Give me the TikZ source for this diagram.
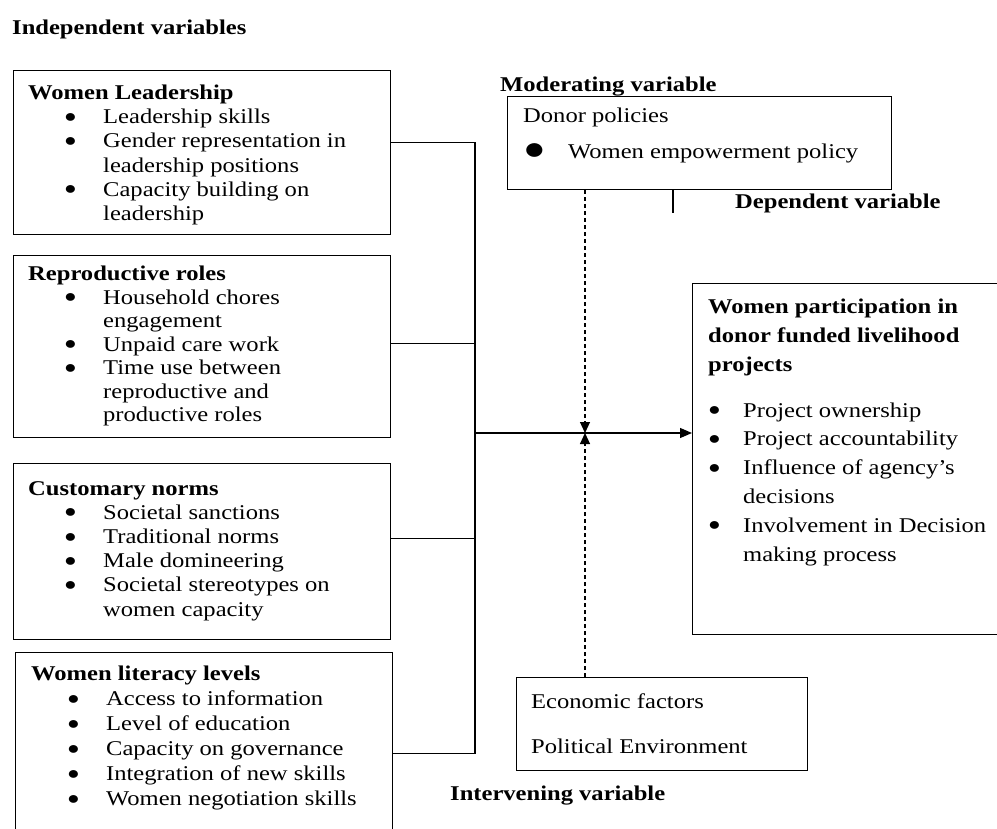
\documentclass[tikz,border=0pt]{standalone}
\usepackage{fontspec}
\setmainfont{Liberation Serif}[FakeStretch=1.17]
\usetikzlibrary{arrows.meta,positioning}
\tikzstyle{varbox} = [draw, line width=1.3pt, anchor=north west, inner sep=0pt]
\tikzstyle{vartext} = [anchor=north west, inner sep=0pt, align=left, font=\fontsize{21}{24.2}\selectfont]
\tikzstyle{vartitle} = [anchor=north west, inner sep=0pt, font=\fontsize{21}{24}\selectfont\bfseries]
\tikzstyle{link} = [line width=1.3pt]
\tikzstyle{arrow} = [line width=1.3pt,-{Triangle[length=12pt,width=10pt]}]
\tikzstyle{dasharrow} = [line width=1.1pt, dash pattern=on 4pt off 3pt, -{Triangle[length=11pt,width=10pt]}]
\newcommand{\blob}[2]{\raisebox{#2}{\fontsize{#1}{#1}\selectfont ●}}
\newcommand{\ibul}{\hspace*{36pt}\makebox[39pt][l]{\blob{18}{1.5pt}}}
\newcommand{\icont}{\hspace*{75pt}}
\newcommand{\dbul}{\makebox[35pt][l]{\blob{18}{1.5pt}}}
\newcommand{\dcont}{\hspace*{35pt}}
\begin{document}
\begin{tikzpicture}[x=1pt,y=-1pt]
\useasboundingbox (0,0) rectangle (997,829);

% headings
\node[vartitle] (indep) at (12,20) {Independent variables};
\node[vartitle] (modlabel) at (500,77) {Moderating variable};
\node[vartitle] (deplabel) at (735,194) {Dependent variable};
\node[vartitle] (intlabel) at (450,786) {Intervening variable};

% independent variables
\node[varbox, minimum width=377pt, minimum height=164pt] (lead) at (13,70) {};
\node[vartext, below right=14.7pt and 15pt of lead.north west] (leadtxt)
  {\textbf{Women Leadership}\\ \ibul Leadership skills\\ \ibul Gender representation in\\
   \icont leadership positions\\ \ibul Capacity building on\\ \icont leadership};

\node[varbox, minimum width=377pt, minimum height=182pt] (repro) at (13,255) {};
\node[vartext, font=\fontsize{21}{23.5}\selectfont, below right=11pt and 15pt of repro.north west] (reprotxt)
  {\textbf{Reproductive roles}\\ \ibul Household chores\\ \icont engagement\\ \ibul Unpaid care work\\
   \ibul Time use between\\ \icont reproductive and\\ \icont productive roles};

\node[varbox, minimum width=377pt, minimum height=176pt] (norms) at (13,463) {};
\node[vartext, below right=18pt and 15pt of norms.north west] (normstxt)
  {\textbf{Customary norms}\\ \ibul Societal sanctions\\ \ibul Traditional norms\\ \ibul Male domineering\\
   \ibul Societal stereotypes on\\ \icont women capacity};

\node[varbox, minimum width=377pt, minimum height=202pt] (lit) at (15,652) {};
\node[vartext, font=\fontsize{21}{25}\selectfont, below right=14pt and 16pt of lit.north west] (littxt)
  {\textbf{Women literacy levels}\\ \ibul Access to information\\ \ibul Level of education\\
   \ibul Capacity on governance\\ \ibul Integration of new skills\\ \ibul Women negotiation skills};

% dependent variable
\node[varbox, minimum width=320pt, minimum height=351pt] (dep) at (692,283) {};
\node[vartext, font=\fontsize{21}{28.8}\selectfont, below right=16pt and 16pt of dep.north west] (deptxt)
  {\textbf{Women participation in}\\ \textbf{donor funded livelihood}\\ \textbf{projects}\\[17pt]
   \dbul Project ownership\\ \dbul Project accountability\\ \dbul Influence of agency’s\\
   \dcont decisions\\ \dbul Involvement in Decision\\ \dcont making process};

% moderating and intervening
\node[varbox, minimum width=384pt, minimum height=93pt] (donor) at (507,96) {};
\node[vartext, font=\fontsize{21}{36}\selectfont, below right=12pt and 16pt of donor.north west] (donortxt)
  {Donor policies\\ \makebox[45pt][l]{\blob{32}{-1pt}}Women empowerment policy};

\node[varbox, minimum width=291pt, minimum height=93pt] (interv) at (516,677) {};
\node[vartext, font=\fontsize{21}{45}\selectfont, below right=17pt and 15pt of interv.north west] (intervtxt)
  {Economic factors\\ Political Environment};

% connectors
\coordinate (hub) at (475,433);
\coordinate (cross) at (585,433);
\coordinate (tickend) at (673,213);
\draw[link] ([yshift=10pt]lead.east) -| (hub) |- (lit.east);
\draw[link] ([yshift=3pt]repro.east) -- ([yshift=3pt]repro.east -| hub);
\draw[link] ([yshift=13pt]norms.east) -- ([yshift=13pt]norms.east -| hub);
\draw[arrow] (hub) -- (hub -| dep.west);
\draw[dasharrow] (donor.south -| cross) -- (cross);
\draw[dasharrow] (interv.north -| cross) -- (cross);
\draw[link] (donor.south -| tickend) -- (tickend);
\end{tikzpicture}
\end{document}
